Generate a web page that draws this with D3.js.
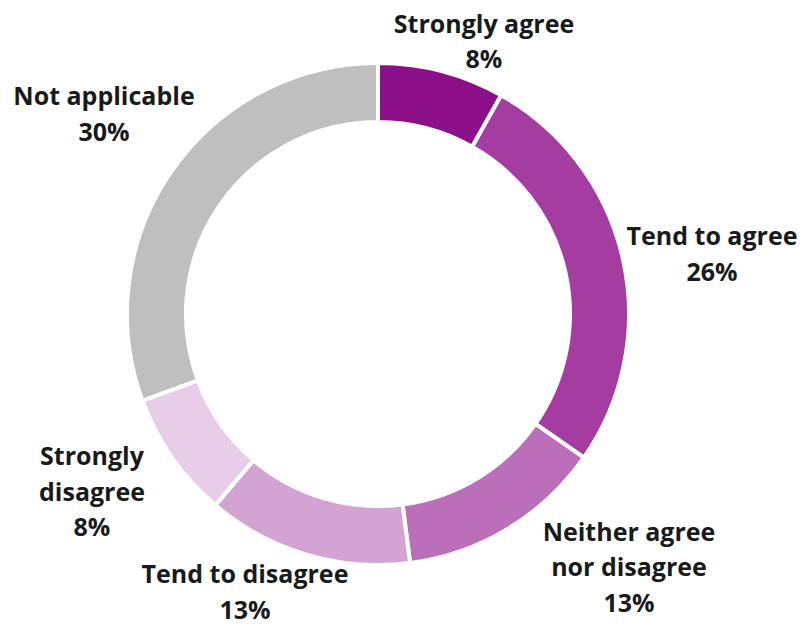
<!DOCTYPE html>
<html>
<head>
<meta charset="utf-8">
<script src="https://cdn.jsdelivr.net/npm/d3@7"></script>
<style>
  html, body { margin: 0; padding: 0; background: #fff; }
  svg { display: block; }
  text { font-family: "Open Sans", Lato, sans-serif; font-weight: 700; fill: #1a1a1a; }
</style>
</head>
<body>
<svg id="chart" width="803" height="626"></svg>
<script>
const categories = ["Strongly agree", "Tend to agree", "Neither agree nor disagree", "Tend to disagree", "Strongly disagree", "Not applicable"];
const values = [8, 26, 13, 13, 8, 30];
const colors = ["#8c0f8a", "#a53ca1", "#bb6fbb", "#d3a3d3", "#e8cde8", "#bfbfbf"];

// label text lines and anchor points (centre of first line) for each slice
const labelLines = [
  ["Strongly agree"], ["Tend to agree"], ["Neither agree", "nor disagree"],
  ["Tend to disagree"], ["Strongly", "disagree"], ["Not applicable"]
];
const labelAt = [[484, 23.5], [712, 236], [629, 531.5], [245, 574], [92, 456], [104, 96]];

const svg = d3.select("#chart");
const cx = 378, cy = 314, rOuter = 251, rInner = 192;

const pie = d3.pie().sort(null).value(d => d.v);
const arc = d3.arc().innerRadius(rInner).outerRadius(rOuter);
const data = categories.map((c, i) => ({ c, v: values[i], col: colors[i] }));

const g = svg.append("g").attr("transform", `translate(${cx},${cy})`);
g.selectAll("path").data(pie(data)).join("path")
  .attr("d", arc)
  .attr("fill", d => d.data.col)
  .attr("stroke", "#fff")
  .attr("stroke-width", 4)
  .attr("stroke-linejoin", "miter");

const lineH = 35.5;
data.forEach((d, i) => {
  const [x, y] = labelAt[i];
  const t = svg.append("text").attr("text-anchor", "middle").attr("font-size", 25);
  const lines = labelLines[i].concat([d.v + "%"]);
  lines.forEach((s, k) => {
    t.append("tspan").attr("x", x).attr("y", y + k * lineH).attr("dy", "0.36em").text(s);
  });
});
</script>
</body>
</html>
